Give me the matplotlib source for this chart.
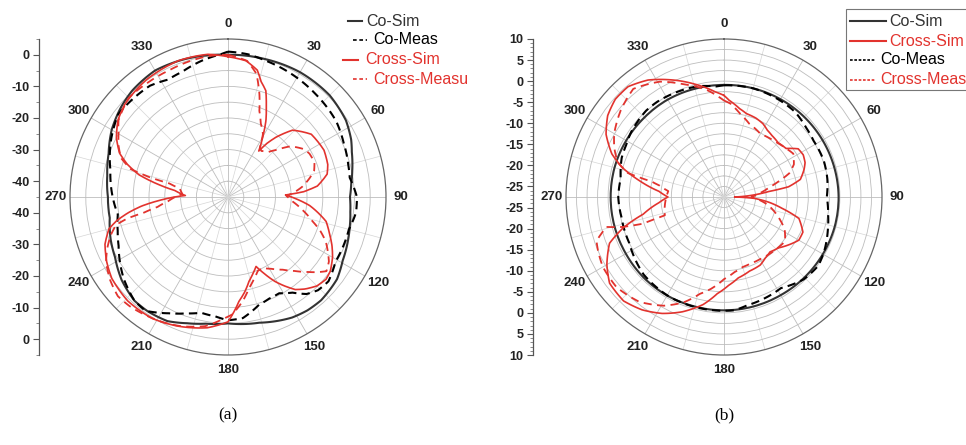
import matplotlib

matplotlib.use("Agg")
import matplotlib.pyplot as plt
import numpy as np
from matplotlib.lines import Line2D
from matplotlib.patches import Rectangle

W, H = 966, 445
R_PX = 158
BLACK = "#333333"
RED = "#e2332e"
FONT = "Liberation Sans"

## Panel (a) traces, angle in degrees, level in dB

co_sim_a_deg = [0, 15, 30, 45, 57, 65, 70, 78, 84, 90, 97, 104, 110, 119, 127, 138, 145, 152,
                166, 180, 190, 198, 206, 215, 222, 232, 242, 250, 260, 270, 280, 290, 300,
                310, 318, 330, 343, 352, 360]
co_sim_a_db = [0.0, 0.2, 0.6, 0.5, -0.5, -2.0, -3.3, -4.8, -5.8, -6.4, -6.0, -5.3, -4.6, -3.5,
               -1.8, -1.0, -1.2, -1.8, -4.0, -5.0, -4.3, -3.0, -1.3, -0.8, -0.8, -2.3, -4.5,
               -5.5, -7.0, -7.0, -6.2, -4.8, -2.5, -0.8, 0.3, 1.2, 0.7, 0.3, 0.0]

co_meas_a_deg = [0, 8, 15, 25, 40, 55, 65, 75, 81, 86, 90, 97, 105, 121, 130, 136, 141, 146,
                 152, 158, 164, 173, 180, 186, 193, 200, 207, 216, 222, 232, 246, 253, 261,
                 270, 283, 297, 307, 317, 325, 333, 340, 349, 357, 360]
co_meas_a_db = [1.0, 0.6, -0.2, -1.0, -2.2, -3.2, -4.6, -5.6, -6.0, -5.0, -4.2, -4.2, -5.4,
                -5.3, -3.5, -4.0, -5.5, -8.5, -10.5, -10.3, -9.5, -6.4, -6.0, -7.0, -7.4, -5.8,
                -3.7, -0.5, -0.8, -3.1, -7.1, -8.5, -9.7, -8.5, -6.8, -3.6, -1.5, -1.8, -2.0,
                -3.3, -2.8, -1.1, 0.2, 1.0]

cross_sim_a_deg = [0, 7.5, 13, 16, 19.6, 23, 26.4, 30, 33.8, 36, 38.7, 44, 53, 64, 72, 77, 83,
                   86, 88, 92, 96, 104, 110, 115, 120, 126, 130, 135, 140, 144, 148, 151, 155,
                   158, 162, 166, 170, 174, 180, 189, 201, 212, 224, 235, 242, 249, 255, 258,
                   261, 264, 267, 272, 277, 280, 284, 288, 292, 298, 305, 312, 325, 340, 352,
                   360]
cross_sim_a_db = [-0.6, -1.5, -3.8, -7.0, -9.3, -14.0, -18.0, -23.0, -27.5, -24.0, -20.8,
                  -15.6, -12.0, -11.2, -11.8, -12.8, -16.5, -21.0, -26.8, -23.0, -19.0, -13.0,
                  -10.8, -8.7, -6.8, -5.0, -4.5, -5.2, -7.0, -8.8, -12.0, -14.5, -18.5, -21.3,
                  -19.5, -17.5, -14.5, -11.8, -5.5, -3.1, -1.2, 0.3, 0.7, -0.1, -1.5, -3.3,
                  -6.0, -9.0, -13.0, -17.5, -23.0, -31.5, -28.0, -23.0, -16.0, -11.5, -8.0,
                  -5.0, -2.5, -1.1, 0.2, 0.9, 0.6, -0.6]

cross_meas_a_deg = [0, 8, 13, 17, 20, 24, 29, 33, 36, 42, 46, 51, 58, 62, 68, 73, 77, 82, 86,
                    89, 94, 100, 106, 110, 114.5, 122.6, 127, 130, 133, 138, 143, 149, 154,
                    158, 162, 167, 172, 178, 182, 190, 200, 207, 215, 222, 228, 235, 242, 247,
                    252, 256, 258, 259.5, 262, 266, 274, 280, 283, 284, 286, 290, 295, 300,
                    305, 315, 325, 335, 345, 352, 360]
cross_meas_a_db = [0.0, -1.5, -5.0, -11.0, -16.0, -19.5, -22.2, -26.5, -27.0, -25.8, -23.5,
                   -19.5, -16.5, -15.8, -15.5, -16.5, -18.5, -21.2, -24.0, -26.5, -24.5, -21.0,
                   -17.2, -14.0, -11.0, -7.1, -6.0, -8.0, -10.2, -13.5, -16.2, -18.5, -20.0,
                   -19.8, -18.0, -15.4, -11.7, -7.8, -6.5, -3.5, -1.5, -0.4, 0.6, 1.5, 1.9,
                   0.6, -1.3, -3.5, -6.0, -8.5, -12.5, -18.0, -22.5, -26.0, -30.5, -29.5,
                   -26.0, -20.0, -13.0, -9.0, -6.8, -5.0, -2.7, -0.6, -0.8, -0.8, -0.3, 0.0,
                   0.0]

## Panel (b) traces

co_sim_b_deg = list(range(0, 361, 15))
co_sim_b_db = [-0.9, -0.8, -0.7, -0.6, -0.5, -0.4, -0.3, -0.3, -0.4, -0.5, -0.6, -0.6, -0.6,
               -0.6, -0.5, -0.5, -0.6, -0.6, -0.6, -0.6, -0.7, -0.8, -0.8, -0.9, -0.9]

co_meas_b_deg = [0, 15, 30, 40, 50, 58, 70, 80, 90, 100, 108, 118, 126, 136, 148, 158, 168,
                 175, 190, 208, 226, 244, 259, 270, 280, 291, 298, 305, 318, 325, 336, 347,
                 356, 360]
co_meas_b_db = [-1.0, -0.8, -1.0, -1.2, -2.0, -2.4, -2.3, -2.6, -3.1, -2.4, -1.6, -0.5, 0.2,
                -0.3, -2.0, -1.6, -1.2, -0.5, -0.5, -0.5, -1.0, -2.5, -2.7, -2.4, -2.6, -1.5,
                -1.2, -0.6, 0.1, 0.1, -0.2, -0.5, -1.2, -1.0]

cross_sim_b_deg = [0, 3, 10, 15, 22, 28, 33, 38, 45, 52, 57, 62, 67, 71, 77, 81, 83, 87, 90,
                   92.5, 97, 101, 106, 114, 120, 126, 133, 140, 146, 152, 161, 170, 177, 184,
                   191, 200, 208, 216, 224, 233, 240, 248, 253, 258, 265, 270, 275, 281, 286,
                   291, 298, 305, 312, 319, 327, 334, 345, 355, 360]
cross_sim_b_db = [-3.4, -4.5, -6.2, -7.0, -7.3, -7.8, -8.6, -9.0, -9.3, -8.8, -6.5, -6.2,
                  -6.6, -7.4, -8.9, -12.0, -16.8, -21.5, -25.0, -20.4, -16.5, -13.5, -9.0,
                  -7.0, -7.0, -8.3, -9.8, -10.5, -10.0, -9.2, -8.9, -8.0, -6.5, -4.5, -1.5,
                  1.5, 3.8, 5.6, 6.8, 6.5, 4.6, 1.8, -2.5, -7.9, -12.0, -14.2, -12.0, -7.0,
                  -2.5, 1.0, 4.2, 6.2, 7.2, 7.2, 5.6, 3.5, 0.3, -2.4, -3.4]

cross_meas_b_deg = [0, 4, 11, 19, 30, 41, 50, 58, 65, 70, 74, 78, 84, 90, 100, 111, 118, 126,
                    135, 148, 158, 165, 172, 180, 188, 194, 201, 209, 219, 230, 240, 247, 251,
                    255.7, 253.5, 251.8, 252.8, 260, 270, 276, 280, 282, 284, 288, 294, 300,
                    310, 320, 331, 340, 351, 357, 360]
cross_meas_b_db = [-4.6, -5.3, -7.4, -9.1, -10.2, -9.7, -9.0, -8.1, -9.2, -11.0, -14.0,
                   -16.5, -19.0, -21.0, -17.0, -13.5, -11.2, -9.6, -10.0, -10.4, -10.5, -10.3,
                   -9.5, -8.0, -5.5, -3.8, -0.7, 2.0, 4.5, 5.8, 5.7, 5.0, 4.5, 1.3, -2.5, -7.2,
                   -12.8, -13.2, -13.8, -14.2, -12.0, -10.0, -4.0, -1.0, 1.0, 2.6, 4.5, 6.0,
                   3.8, 1.0, -1.8, -3.7, -4.6]

## Axis settings

angle_labels = list(range(0, 360, 30))
ticks_a = [0, -10, -20, -30, -40]
ticks_b = [10, 5, 0, -5, -10, -15, -20, -25]


def fx(x):
    return x / W


def fy(y):
    return 1 - y / H


def polar_panel(fig, cx, cy, rmin, rmax, ring_step):
    ax = fig.add_axes([fx(cx - R_PX), fy(cy + R_PX), 2 * R_PX / W, 2 * R_PX / H],
                      projection="polar")
    ax.set_theta_zero_location("N")
    ax.set_theta_direction(-1)
    ax.set_ylim(rmin, rmax)
    ax.set_yticks(np.arange(rmin + (rmax - rmin) % ring_step or ring_step, rmax, ring_step))
    ax.set_yticklabels([])
    ax.set_xticks(np.deg2rad(np.arange(0, 360, 30)))
    ax.set_xticks(np.deg2rad(np.arange(15, 360, 30)), minor=True)
    ax.set_xticklabels([])
    ax.tick_params(axis="x", which="both", length=0)
    ax.grid(True, which="major", color="#bdbdbd", linewidth=0.6)
    ax.xaxis.grid(True, which="minor", color="#d6d6d6", linewidth=0.5)
    ax.spines["polar"].set_color("#666666")
    ax.spines["polar"].set_linewidth(0.9)

    for ang in angle_labels:
        t = np.deg2rad(ang)
        ax.text(0.5 + 0.547 * np.sin(t), 0.5 + 0.547 * np.cos(t), str(ang),
                transform=ax.transAxes, ha="center", va="center",
                fontsize=9.5, fontweight="bold", family=FONT, color="#222222")
    return ax


def trace(ax, deg, db, **style):
    line, = ax.plot(np.deg2rad(deg), db, **style)
    # let the polar transform bend each segment along the angle
    line.get_path()._interpolation_steps = 12
    return line


def side_axis(fig, x, cy, rmin, rmax, labels, minor_step):
    span = rmax - rmin
    ax = fig.add_axes([fx(x), fy(cy + R_PX), 0.0005, 2 * R_PX / H])
    ax.set_ylim(-span, span)
    ax.set_xticks([])
    for side in ["top", "right", "bottom"]:
        ax.spines[side].set_visible(False)
    ax.spines["left"].set_color("#555555")
    ax.spines["left"].set_linewidth(0.9)
    ax.patch.set_visible(False)

    pos = [v - rmin for v in labels] + [-(v - rmin) for v in labels]
    ax.set_yticks(pos)
    ax.set_yticklabels([str(v) for v in labels] * 2)
    minor = np.arange(-span, span + 0.01, minor_step)
    ax.set_yticks(minor, minor=True)
    ax.tick_params(axis="y", which="major", direction="out", length=4, width=0.8,
                   colors="#555555", labelcolor="#222222", labelsize=9, pad=3)
    ax.tick_params(axis="y", which="minor", direction="out", length=2, width=0.6,
                   colors="#777777")
    for lab in ax.get_yticklabels():
        lab.set_fontweight("bold")
        lab.set_family(FONT)
    return ax


def legend_entry(fig, x0, x1, y, tx, text, color, ls, lw):
    fig.add_artist(Line2D([fx(x0), fx(x1)], [fy(y), fy(y)], color=color,
                          linestyle=ls, linewidth=lw, transform=fig.transFigure))
    fig.text(fx(tx), fy(y), text, color=color, fontsize=11.5, family=FONT,
             ha="left", va="center")


fig = plt.figure(figsize=(W / 100, H / 100), dpi=100)

dash_co = (0, (4, 2.5))
dash_cross = (0, (4.5, 3))

# panel (a)
ax_a = polar_panel(fig, 228, 197, -45, 5, 5)
trace(ax_a, co_sim_a_deg, co_sim_a_db, color=BLACK, linewidth=1.5)
trace(ax_a, co_meas_a_deg, co_meas_a_db, color="black", linewidth=1.5, linestyle=dash_co)
trace(ax_a, cross_sim_a_deg, cross_sim_a_db, color=RED, linewidth=1.2)
trace(ax_a, cross_meas_a_deg, cross_meas_a_db, color=RED, linewidth=1.3, linestyle=dash_cross)
side_axis(fig, 39, 197, -45, 5, ticks_a, 5)

legend_entry(fig, 348, 362, 21, 366, "Co-Sim", BLACK, "-", 1.5)
legend_entry(fig, 353, 367, 40, 373, "Co-Meas", "black", (0, (2.2, 1.6)), 1.2)
legend_entry(fig, 343, 358, 60, 365, "Cross-Sim", RED, "-", 1.5)
legend_entry(fig, 353, 367, 79, 373, "Cross-Measu", RED, (0, (2.2, 1.6)), 1.2)

# panel (b)
ax_b = polar_panel(fig, 724, 197, -27.5, 10, 2.5)
trace(ax_b, co_sim_b_deg, co_sim_b_db, color=BLACK, linewidth=1.5)
trace(ax_b, co_meas_b_deg, co_meas_b_db, color="black", linewidth=1.5, linestyle=dash_co)
trace(ax_b, cross_sim_b_deg, cross_sim_b_db, color=RED, linewidth=1.2)
trace(ax_b, cross_meas_b_deg, cross_meas_b_db, color=RED, linewidth=1.3, linestyle=dash_cross)
side_axis(fig, 533, 197, -27.5, 10, ticks_b, 1)

fig.add_artist(Rectangle((fx(846), fy(90)), fx(130), 81 / H, transform=fig.transFigure,
                         facecolor="white", edgecolor="#777777", linewidth=0.8))
legend_entry(fig, 850, 886, 21, 889, "Co-Sim", BLACK, "-", 1.5)
legend_entry(fig, 850, 886, 41, 889, "Cross-Sim", RED, "-", 1.5)
legend_entry(fig, 850, 875, 60, 880, "Co-Meas", "black", (0, (1.6, 1.0)), 1.2)
legend_entry(fig, 850, 875, 80, 880, "Cross-Meas", RED, (0, (1.6, 1.0)), 1.2)

fig.text(fx(228), fy(415), "(a)", fontsize=12.5, family="Liberation Serif",
         ha="center", va="center")
fig.text(fx(724), fy(415), "(b)", fontsize=12.5, family="Liberation Serif",
         ha="center", va="center")

fig.savefig("out.png", dpi=100)
